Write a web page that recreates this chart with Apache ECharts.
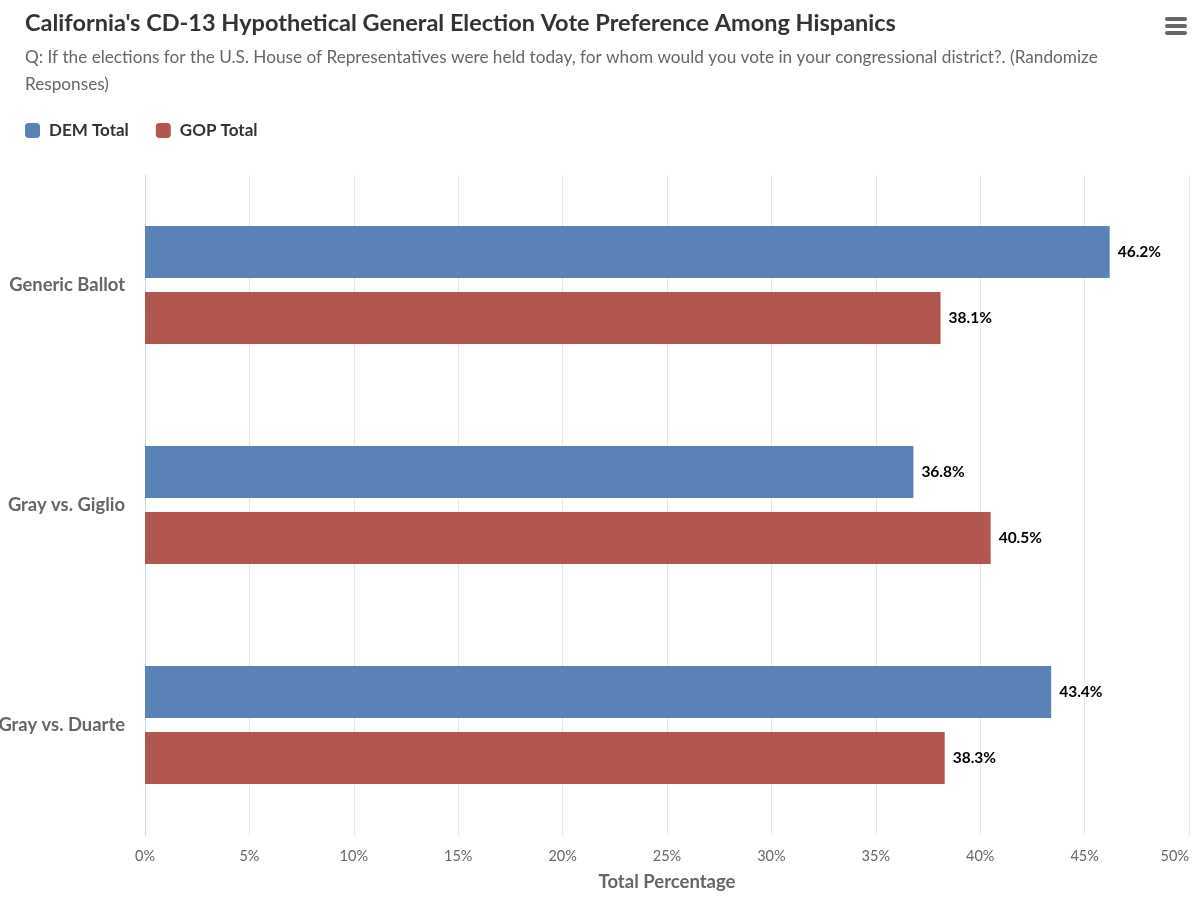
<!DOCTYPE html>
<html>
<head>
<meta charset="utf-8">
<script src="https://cdn.jsdelivr.net/npm/echarts@6/dist/echarts.min.js"></script>
<style>
html,body{margin:0;padding:0;background:#fff;}
#chart{width:1200px;height:909px;}
</style>
</head>
<body>
<div id="chart"></div>
<script>
var categories = ['Generic Ballot', 'Gray vs. Giglio', 'Gray vs. Duarte'];
var demTotal = [46.2, 36.8, 43.4];
var gopTotal = [38.1, 40.5, 38.3];
var seriesNames = ['DEM Total', 'GOP Total'];

var chart = echarts.init(document.getElementById('chart'));
var FONT = 'Lato, "Open Sans", sans-serif';
chart.setOption({
  backgroundColor: '#ffffff',
  animation: false,
  textStyle: { fontFamily: FONT },
  title: {
    left: 20,
    top: 3,
    itemGap: 6,
    text: "California's CD-13 Hypothetical General Election Vote Preference Among Hispanics",
    subtext: 'Q: If the elections for the U.S. House of Representatives were held today, for whom would you vote in your congressional district?. (Randomize\nResponses)',
    textStyle: { fontFamily: FONT, fontSize: 23.5, fontWeight: 'bold', color: '#333333', lineHeight: 30 },
    subtextStyle: { fontFamily: FONT, fontSize: 17.2, color: '#666666', lineHeight: 27 }
  },
  legend: {
    left: 20,
    top: 117,
    itemWidth: 15,
    itemHeight: 15,
    itemGap: 27,
    icon: 'roundRect',
    textStyle: { fontFamily: FONT, fontSize: 17, fontWeight: 'bold', color: '#333333', padding: [0, 0, 0, 4] },
    data: seriesNames
  },
  graphic: [
    { type: 'rect', left: 1165, top: 17, shape: { width: 22, height: 4, r: 2 }, style: { fill: '#666666' } },
    { type: 'rect', left: 1165, top: 24, shape: { width: 22, height: 4, r: 2 }, style: { fill: '#666666' } },
    { type: 'rect', left: 1165, top: 31, shape: { width: 22, height: 4, r: 2 }, style: { fill: '#666666' } }
  ],
  grid: { left: 145, right: 11, top: 175, bottom: 74, containLabel: false, outerBoundsMode: 'none' },
  xAxis: {
    type: 'value',
    min: 0,
    max: 50,
    interval: 5,
    name: 'Total Percentage',
    nameLocation: 'middle',
    nameGap: 38,
    nameTextStyle: { fontFamily: FONT, fontSize: 18.5, fontWeight: 'bold', color: '#666666' },
    axisLine: { show: false },
    axisTick: { show: false },
    splitLine: { show: true, lineStyle: { color: '#e6e6e6', width: 1 } },
    axisLabel: { formatter: '{value}%', fontFamily: FONT, fontSize: 14.5, color: '#666666', margin: 14, alignMaxLabel: 'right' }
  },
  yAxis: {
    type: 'category',
    data: categories,
    inverse: true,
    axisLine: { show: true, lineStyle: { color: '#ccd6eb' } },
    axisTick: { show: false },
    splitLine: { show: false },
    axisLabel: { fontFamily: FONT, fontSize: 18.4, fontWeight: 'bold', color: '#666666', margin: 20, padding: [10, 0, 0, 0] }
  },
  series: [
    {
      name: seriesNames[0],
      type: 'bar',
      data: demTotal,
      barWidth: 52,
      barGap: '27%',
      itemStyle: { color: '#5a81b8' },
      label: { show: true, position: 'right', distance: 8, formatter: '{c}%', fontFamily: FONT, fontSize: 15.5, fontWeight: 'bold', color: '#000000' }
    },
    {
      name: seriesNames[1],
      type: 'bar',
      data: gopTotal,
      barWidth: 52,
      barGap: '27%',
      itemStyle: { color: '#b25650' },
      label: { show: true, position: 'right', distance: 8, formatter: '{c}%', fontFamily: FONT, fontSize: 15.5, fontWeight: 'bold', color: '#000000' }
    }
  ]
});
</script>
</body>
</html>
